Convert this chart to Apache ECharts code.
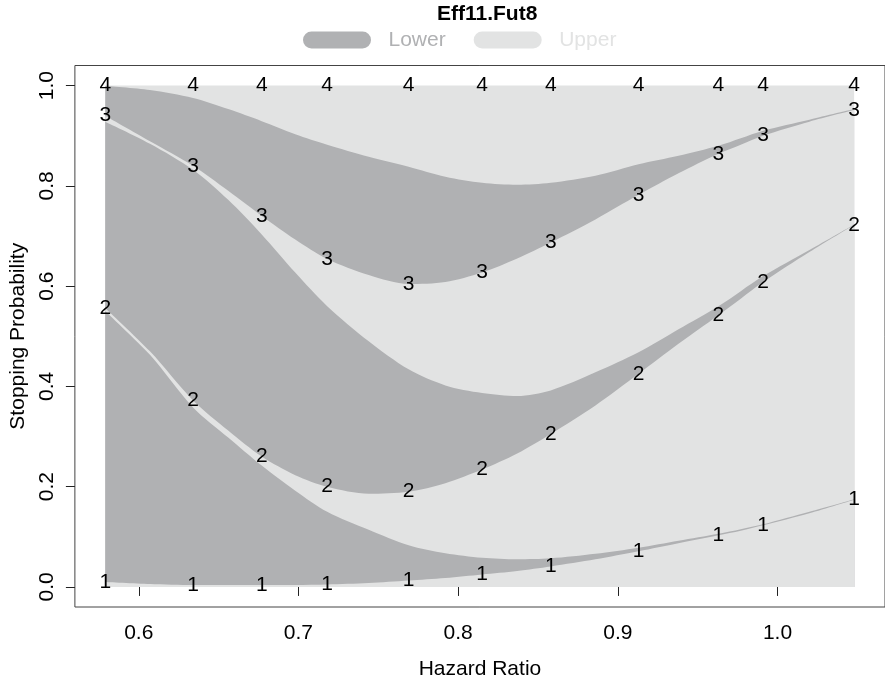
<!DOCTYPE html>
<html>
<head>
<meta charset="utf-8">
<script src="https://cdn.jsdelivr.net/npm/echarts@6/dist/echarts.min.js"></script>
<style>
html, body { margin: 0; padding: 0; background: #fff; }
#chart { width: 885px; height: 685px; }
</style>
</head>
<body>
<div id="chart"></div>
<script>
// hazard ratios; the even positions are the ones that carry the 1..4 labels
var hr = [0.579, 0.607, 0.634, 0.656, 0.677, 0.698, 0.718, 0.744, 0.769, 0.792, 0.815,
	0.837, 0.858, 0.886, 0.913, 0.938, 0.963, 0.977, 0.991, 1.020, 1.048];

// cumulative probabilities: upper1, +lower1, +upper2, +lower2, +upper3, +lower3, +upper4
var cumU1 = [0.010, 0.006, 0.004, 0.004, 0.004, 0.004, 0.005, 0.008, 0.013, 0.018, 0.025,
	0.032, 0.041, 0.055, 0.071, 0.087, 0.103, 0.112, 0.123, 0.147, 0.174];
var cumL1 = [0.550, 0.463, 0.358, 0.298, 0.242, 0.192, 0.150, 0.114, 0.083, 0.067, 0.058,
	0.055, 0.057, 0.066, 0.078, 0.092, 0.106, 0.115, 0.125, 0.150, 0.175];
var cumU2 = [0.556, 0.470, 0.372, 0.312, 0.260, 0.223, 0.200, 0.186, 0.190, 0.207, 0.234,
	0.266, 0.305, 0.362, 0.425, 0.485, 0.542, 0.575, 0.608, 0.668, 0.722];
var cumL2 = [0.928, 0.884, 0.832, 0.772, 0.703, 0.627, 0.560, 0.490, 0.434, 0.402, 0.387,
	0.381, 0.392, 0.428, 0.468, 0.514, 0.560, 0.590, 0.620, 0.672, 0.723];
var cumU3 = [0.940, 0.889, 0.840, 0.790, 0.740, 0.693, 0.654, 0.622, 0.604, 0.608, 0.627,
	0.655, 0.687, 0.733, 0.782, 0.825, 0.864, 0.882, 0.900, 0.928, 0.951];
var cumL3 = [0.999, 0.991, 0.975, 0.953, 0.929, 0.903, 0.882, 0.858, 0.838, 0.818, 0.806,
	0.802, 0.806, 0.820, 0.843, 0.860, 0.880, 0.895, 0.910, 0.932, 0.953];
var cumU4 = [1, 1, 1, 1, 1, 1, 1, 1, 1, 1, 1, 1, 1, 1, 1, 1, 1, 1, 1, 1, 1];

var xTicks = [0.6, 0.7, 0.8, 0.9, 1.0];
var yTicks = [0, 0.2, 0.4, 0.6, 0.8, 1.0];

var FONT = '"Liberation Sans", Arial, Helvetica, sans-serif';
var DARK = '#b0b1b3';
var LIGHT = '#e2e3e3';
var INK = '#000';

function pairs(vals) {
	return hr.map(function (x, i) { return [x, vals[i]]; });
}

// each band is filled down to 0, later ones painted on top
function band(name, vals, color) {
	return {
		name: name,
		type: 'line',
		data: pairs(vals),
		smooth: 0.3,
		symbol: 'none',
		silent: true,
		z: 2,
		itemStyle: { color: color },
		lineStyle: { width: 0, color: color },
		areaStyle: { color: color, opacity: 1 }
	};
}

function numbers(k, vals) {
	return {
		name: 'k' + k,
		type: 'scatter',
		data: pairs(vals).filter(function (p, i) { return i % 2 === 0; }),
		symbolSize: 1,
		silent: true,
		z: 10,
		itemStyle: { color: 'rgba(255,255,255,0)', opacity: 1 },
		label: {
			show: true,
			position: 'inside',
			formatter: String(k),
			fontSize: 21,
			fontFamily: FONT,
			color: INK,
			opacity: 1
		}
	};
}

var chart = echarts.init(document.getElementById('chart'));

chart.setOption({
	animation: false,
	backgroundColor: '#fff',
	title: {
		text: 'Eff11.Fut8',
		left: 437,
		top: 4,
		padding: 0,
		textStyle: { fontSize: 21, fontWeight: 'bold', fontFamily: FONT, color: INK }
	},
	legend: {
		data: [
			{ name: 'Lower', textStyle: { color: DARK } },
			{ name: 'Upper', textStyle: { color: LIGHT } }
		],
		left: 303,
		top: 29.5,
		padding: 0,
		itemWidth: 69,
		itemHeight: 17,
		itemGap: 28,
		icon: 'path://M9,0H60A8.5,8.5,0,0,1,60,17H9A8.5,8.5,0,0,1,9,0Z',
		selectedMode: false,
		textStyle: { fontSize: 21, fontFamily: FONT, padding: [0, 0, 0, 12] }
	},
	grid: {
		left: 74,
		top: 65.5,
		width: 813,
		height: 543,
		show: true,
		borderColor: '#444',
		borderWidth: 1,
		containLabel: false
	},
	xAxis: {
		type: 'value',
		min: 0.56,
		max: 0.56 + 813 / 1602.5,
		axisLine: { show: false },
		splitLine: { show: false },
		axisTick: { show: true, length: 9, customValues: xTicks, lineStyle: { color: '#222' } },
		axisLabel: {
			customValues: xTicks,
			formatter: function (v) { return v.toFixed(1); },
			fontSize: 21,
			fontFamily: FONT,
			color: INK,
			margin: 16
		},
		name: 'Hazard Ratio',
		nameLocation: 'middle',
		nameGap: 52,
		nameTextStyle: { fontSize: 21, fontFamily: FONT, color: INK }
	},
	yAxis: {
		type: 'value',
		min: -0.04,
		max: 1.04,
		axisLine: { show: false },
		splitLine: { show: false },
		axisTick: { show: true, length: 9, customValues: yTicks, lineStyle: { color: '#222' } },
		axisLabel: {
			customValues: yTicks,
			formatter: function (v) { return v.toFixed(1); },
			rotate: 90,
			fontSize: 21,
			fontFamily: FONT,
			color: INK,
			margin: 17
		},
		name: 'Stopping Probability',
		nameLocation: 'middle',
		nameGap: 40,
		nameTextStyle: { fontSize: 21, fontFamily: FONT, color: INK }
	},
	series: [
		band('Upper', cumU4, LIGHT),
		band('Lower', cumL3, DARK),
		band('Upper', cumU3, LIGHT),
		band('Lower', cumL2, DARK),
		band('Upper', cumU2, LIGHT),
		band('Lower', cumL1, DARK),
		band('Upper', cumU1, LIGHT),
		numbers(1, cumU1),
		numbers(2, cumU2),
		numbers(3, cumU3),
		numbers(4, cumU4)
	]
});
</script>
</body>
</html>
